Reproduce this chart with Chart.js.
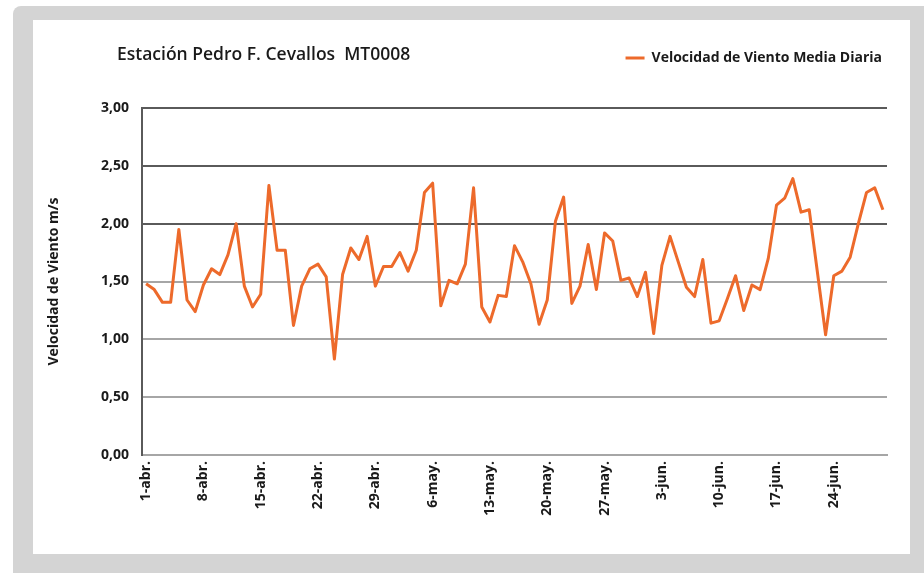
<!DOCTYPE html>
<html>
<head>
<meta charset="utf-8">
<script src="https://cdn.jsdelivr.net/npm/chart.js@4/dist/chart.umd.min.js"></script>
<style>
html,body{margin:0;padding:0;background:#fff;}
#wrap{width:924px;height:573px;position:relative;}
</style>
</head>
<body>
<div id="wrap"><canvas id="c" width="924" height="573"></canvas></div>
<script>
const chartTitle = 'Estación Pedro F. Cevallos  MT0008';
const seriesName = 'Velocidad de Viento Media Diaria';
const yAxisTitle = 'Velocidad de Viento m/s';

const categories = [
 '1-abr.','2-abr.','3-abr.','4-abr.','5-abr.','6-abr.','7-abr.','8-abr.','9-abr.','10-abr.',
 '11-abr.','12-abr.','13-abr.','14-abr.','15-abr.','16-abr.','17-abr.','18-abr.','19-abr.','20-abr.',
 '21-abr.','22-abr.','23-abr.','24-abr.','25-abr.','26-abr.','27-abr.','28-abr.','29-abr.','30-abr.',
 '1-may.','2-may.','3-may.','4-may.','5-may.','6-may.','7-may.','8-may.','9-may.','10-may.',
 '11-may.','12-may.','13-may.','14-may.','15-may.','16-may.','17-may.','18-may.','19-may.','20-may.',
 '21-may.','22-may.','23-may.','24-may.','25-may.','26-may.','27-may.','28-may.','29-may.','30-may.','31-may.',
 '1-jun.','2-jun.','3-jun.','4-jun.','5-jun.','6-jun.','7-jun.','8-jun.','9-jun.','10-jun.',
 '11-jun.','12-jun.','13-jun.','14-jun.','15-jun.','16-jun.','17-jun.','18-jun.','19-jun.','20-jun.',
 '21-jun.','22-jun.','23-jun.','24-jun.','25-jun.','26-jun.','27-jun.','28-jun.','29-jun.','30-jun.'
];

const windSpeed = [
 1.48,1.43,1.32,1.32,1.95,1.34,1.24,1.47,1.61,1.56,
 1.73,2.00,1.46,1.28,1.39,2.33,1.77,1.77,1.12,1.46,
 1.61,1.65,1.54,0.83,1.56,1.79,1.69,1.89,1.46,1.63,
 1.63,1.75,1.59,1.77,2.27,2.35,1.29,1.51,1.48,1.65,
 2.31,1.28,1.15,1.38,1.37,1.81,1.67,1.48,1.13,1.34,
 2.02,2.23,1.31,1.46,1.82,1.43,1.92,1.85,1.51,1.53,1.37,
 1.58,1.05,1.64,1.89,1.67,1.45,1.37,1.69,1.14,1.16,
 1.35,1.55,1.25,1.47,1.43,1.70,2.16,2.22,2.39,2.10,
 2.12,1.58,1.04,1.55,1.59,1.71,2.00,2.27,2.31,2.12
];

const yTickValues = [0, 0.5, 1, 1.5, 2, 2.5, 3];
const yTickLabels = ['0,00','0,50','1,00','1,50','2,00','2,50','3,00'];

const FONT = '"Open Sans", Lato, sans-serif';
const ORANGE = '#ED6A2B';
const PAD = {left: 40, right: 37, top: 46, bottom: 0};
const LEGEND_EXTRA = 33;

const framePlugin = {
  id: 'frame',
  afterInit(chart) {
    const lg = chart.legend;
    if (lg && !lg._patched) {
      const orig = lg.fit.bind(lg);
      lg.fit = function() { orig(); this.height += LEGEND_EXTRA; };
      lg._patched = true;
    }
  },
  beforeDraw(chart) {
    const ctx = chart.ctx;
    ctx.save();
    ctx.fillStyle = '#ffffff';
    ctx.fillRect(0, 0, chart.width, chart.height);
    ctx.fillStyle = '#d4d4d4';
    ctx.beginPath();
    ctx.roundRect(13, 6, chart.width + 20, chart.height + 20, 8);
    ctx.fill();
    ctx.fillStyle = '#ffffff';
    ctx.fillRect(33, 20, 877, 534);
    ctx.restore();
  },
  afterDraw(chart) {
    const ctx = chart.ctx;
    ctx.save();
    ctx.fillStyle = '#1a1a1a';
    ctx.font = '600 17.5px ' + FONT;
    ctx.textBaseline = 'middle';
    ctx.textAlign = 'left';
    ctx.fillText(chartTitle, 117, 55);
    ctx.restore();
  }
};

new Chart(document.getElementById('c'), {
  type: 'line',
  data: {
    labels: categories,
    datasets: [{
      label: seriesName,
      data: windSpeed,
      borderColor: ORANGE,
      backgroundColor: ORANGE,
      borderWidth: 3,
      borderJoinStyle: 'round',
      pointRadius: 0,
      tension: 0,
      fill: false
    }]
  },
  options: {
    responsive: false,
    animation: false,
    layout: {padding: PAD},
    plugins: {
      legend: {
        position: 'top',
        align: 'end',
        labels: {
          usePointStyle: true,
          pointStyle: 'line',
          pointStyleWidth: 19,
          boxHeight: 3,
          padding: 5,
          color: '#1a1a1a',
          font: {family: FONT, size: 14, weight: 'bold'}
        }
      },
      title: {display: false},
      tooltip: {enabled: false}
    },
    scales: {
      x: {
        type: 'category',
        offset: true,
        grid: {display: false, drawTicks: false},
        border: {display: true, color: '#a6a6a6', width: 2},
        ticks: {
          autoSkip: false,
          maxRotation: 90,
          minRotation: 90,
          padding: 6,
          color: '#1a1a1a',
          font: {family: FONT, size: 14, weight: 'bold'},
          callback: function(v, i) { return i % 7 === 0 ? categories[i] : ''; }
        },
        afterFit(scale) { scale.height = 573 - PAD.bottom - 455; }
      },
      y: {
        min: 0,
        max: 3,
        afterBuildTicks(scale) { scale.ticks = yTickValues.map(v => ({value: v})); },
        grid: {
          drawTicks: false,
          lineWidth: 2,
          color: (c) => (c.tick && c.tick.value >= 2) ? '#5a5a5a' : '#a6a6a6'
        },
        border: {display: true, color: '#5a5a5a', width: 2},
        ticks: {
          padding: 13,
          color: '#1a1a1a',
          font: {family: FONT, size: 14, weight: 'bold'},
          callback: function(v) { const k = yTickValues.indexOf(v); return k >= 0 ? yTickLabels[k] : ''; }
        },
        title: {
          display: true,
          text: yAxisTitle,
          color: '#1a1a1a',
          font: {family: FONT, size: 14, weight: 'bold'},
          padding: {top: 6, bottom: 0}
        },
        afterFit(scale) { scale.width = 142 - PAD.left; }
      }
    }
  },
  plugins: [framePlugin]
});
</script>
</body>
</html>
